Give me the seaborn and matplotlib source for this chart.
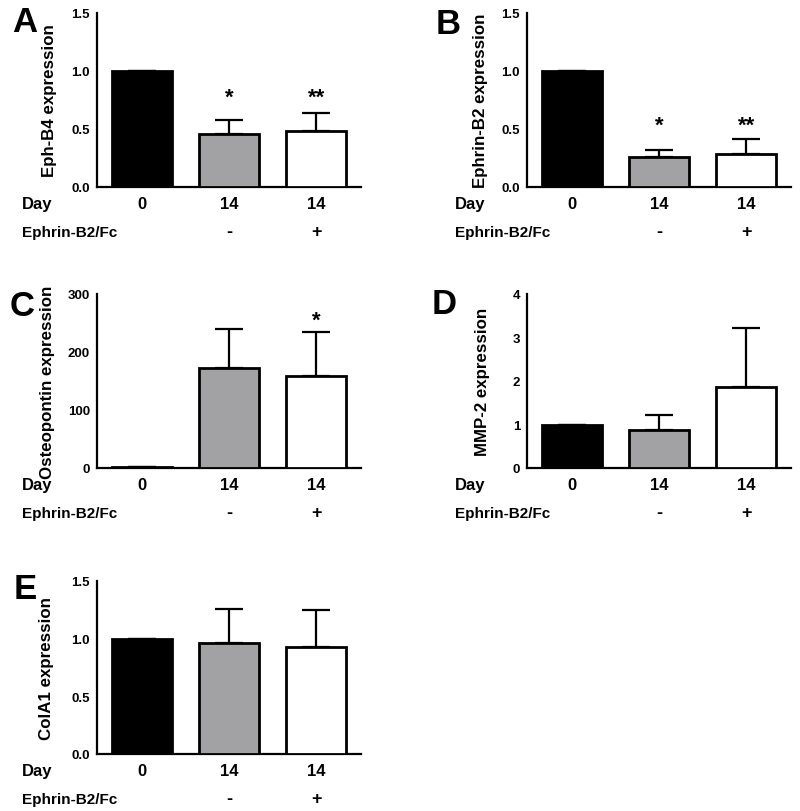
import numpy as np
import matplotlib
matplotlib.use("Agg")
import matplotlib.pyplot as plt
import seaborn as sns

# === DATOS ===
groups = ["d0", "d14_minus", "d14_plus"]
day_labels = ["0", "14", "14"]
fc_labels = ["", "-", "+"]
bar_colors = ["#000000", "#a2a2a5", "#ffffff"]

panel_letters = ["A", "B", "C", "D", "E"]
ylabels = ["Eph-B4 expression", "Ephrin-B2 expression", "Osteopontin expression",
           "MMP-2 expression", "ColA1 expression"]

eph_b4_mean = [1.0, 0.455, 0.48]
eph_b4_err = [0.0, 0.125, 0.155]
ephrin_b2_mean = [1.0, 0.26, 0.285]
ephrin_b2_err = [0.0, 0.055, 0.125]
osteopontin_mean = [2.0, 172.0, 159.0]
osteopontin_err = [0.0, 67.0, 75.0]
mmp2_mean = [1.0, 0.88, 1.86]
mmp2_err = [0.0, 0.34, 1.36]
cola1_mean = [1.0, 0.96, 0.93]
cola1_err = [0.0, 0.30, 0.32]

means = [eph_b4_mean, ephrin_b2_mean, osteopontin_mean, mmp2_mean, cola1_mean]
errs = [eph_b4_err, ephrin_b2_err, osteopontin_err, mmp2_err, cola1_err]

yticks = [[0, 0.5, 1.0, 1.5], [0, 0.5, 1.0, 1.5], [0, 100, 200, 300],
          [0, 1, 2, 3, 4], [0, 0.5, 1.0, 1.5]]
ytick_fmt = ["{:.1f}", "{:.1f}", "{:.0f}", "{:.0f}", "{:.1f}"]

stars = [["", "*", "**"], ["", "*", "**"], ["", "", "*"], ["", "", ""], ["", "", ""]]
star_y = [[0, 0.77, 0.77], [0, 0.53, 0.53], [0, 0, 255], [0, 0, 0], [0, 0, 0]]

# === LAYOUT (pixeles) ===
W, H = 800, 812
# left, top, bottom de cada eje
boxes = [(97, 14, 188), (527, 14, 188), (97, 295, 469), (527, 295, 469), (97, 582, 755)]
ax_w = 264
ylab_x = [50, 480, 48, 482, 47]
letter_pos = [(12, 23), (436, 25), (10, 307), (432, 305), (14, 590)]
row_label_x = [22, 455, 22, 455, 22]

sns.set_style("white")
plt.rcParams["font.family"] = ["Liberation Sans", "DejaVu Sans"]
plt.rcParams["font.weight"] = "bold"
for k in ["text.color", "axes.labelcolor", "xtick.color", "ytick.color"]:
    plt.rcParams[k] = "black"

fig = plt.figure(figsize=(W / 100, H / 100), dpi=100)

for i in range(5):
    left, top, bottom = boxes[i]
    ax = fig.add_axes([left / W, 1 - bottom / H, ax_w / W, (bottom - top) / H])

    sns.barplot(x=groups, y=means[i], hue=groups, order=groups, hue_order=groups,
                palette=bar_colors, legend=False, errorbar=None, width=0.686,
                edgecolor="black", linewidth=2.0, ax=ax, zorder=3)
    ax.errorbar(np.arange(3), means[i], yerr=[np.zeros(3), errs[i]], fmt="none",
                ecolor="black", elinewidth=1.6, capsize=10, capthick=1.6, zorder=2)

    ax.set_xlim(-0.515, 2.515)
    ax.set_ylim(yticks[i][0], yticks[i][-1])
    ax.set_yticks(yticks[i])
    ax.set_yticklabels([ytick_fmt[i].format(v) for v in yticks[i]],
                       fontsize=9.5, fontweight="bold")
    ax.set_xticks(np.arange(3))
    ax.set_xticklabels(day_labels, fontsize=12, fontweight="bold")
    ax.tick_params(axis="both", direction="out", length=4, width=1.5, color="black")
    ax.tick_params(axis="x", pad=2.5)
    ax.tick_params(axis="y", pad=1)
    ax.set_xlabel("")
    ax.set_ylabel(ylabels[i], fontsize=12.2, fontweight="bold", va="center")
    ax.yaxis.set_label_coords((ylab_x[i] - left) / ax_w, 0.5)
    sns.despine(ax=ax)
    for s in ["left", "bottom"]:
        ax.spines[s].set_linewidth(1.6)
        ax.spines[s].set_color("black")

    # segunda fila: Ephrin-B2/Fc
    for j in range(3):
        ax.annotate(fc_labels[j], xy=(j, 0), xycoords=("data", "axes fraction"),
                    xytext=(0, -32), textcoords="offset points",
                    ha="center", va="center", fontsize=13, fontweight="bold")
        if stars[i][j]:
            ax.text(j, star_y[i][j], stars[i][j], ha="center", va="center",
                    fontsize=16, fontweight="bold")

    fig.text(row_label_x[i] / W, 1 - (bottom + 17) / H, "Day", ha="left",
             va="center", fontsize=12, fontweight="bold")
    fig.text(row_label_x[i] / W, 1 - (bottom + 45) / H, "Ephrin-B2/Fc", ha="left",
             va="center", fontsize=11, fontweight="bold")

    lx, ly = letter_pos[i]
    fig.text(lx / W, 1 - ly / H, panel_letters[i], ha="left", va="center",
             fontsize=25, fontweight="bold")

plt.savefig("out.png", dpi=100)
